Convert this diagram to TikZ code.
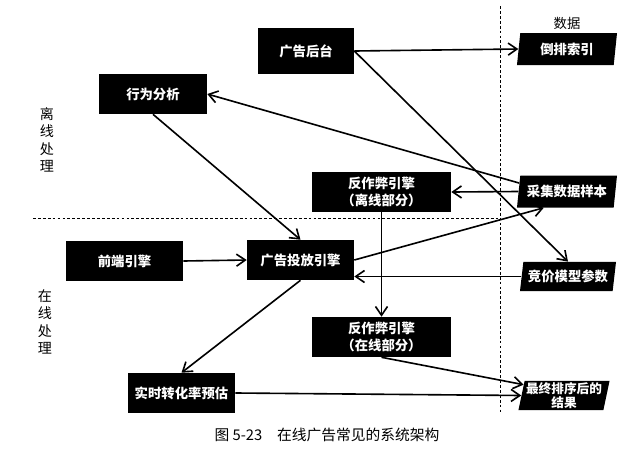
\documentclass[tikz,border=0pt]{standalone}
\usepackage{fontspec}
\setmainfont{Noto Sans CJK SC}
\usepackage{tikz}
\usetikzlibrary{arrows.meta,calc,positioning,shapes.geometric}

\tikzset{
  blocco/.style={fill=black, text=white, inner sep=1pt, align=center,
    minimum width=2.7cm, minimum height=1cm, font=\fontsize{9.5}{12}\selectfont\bfseries},
  dato/.style={trapezium, trapezium left angle=78, trapezium right angle=102,
    trapezium stretches body, fill=black, text=white, inner sep=1pt, align=center,
    minimum width=2.5cm, minimum height=0.8cm, font=\fontsize{9.5}{11}\selectfont\bfseries},
  freccia/.style={line width=1.15pt, -{Straight Barb[length=2.2mm,width=3mm]}},
  divisore/.style={line width=0.7pt, dash pattern=on 2pt off 1.5pt}
}

\begin{document}
\begin{tikzpicture}[x=0.025cm, y=-0.025cm]
\useasboundingbox (0,0) rectangle (640,449);
% Divisori
\draw[divisore] (500,6) -- (500,412);
\draw[divisore] (33,218) -- (500,218);
\node[font=\fontsize{10}{12.5}\selectfont, align=center] (lixian) at (47,140) {离\\线\\处\\理};
\node[font=\fontsize{10}{12.5}\selectfont, align=center] (zaixian) at (45,322) {在\\线\\处\\理};
\node[font=\fontsize{9.5}{11}\selectfont] (shuju) at (567,23) {数据};
% Blocchi
\node[blocco, minimum width=2.4cm, minimum height=1.15cm] (houtai) at (306,51) {广告后台};
\node[blocco] (xingwei) at (153,94) {行为分析};
\node[blocco, minimum width=3.475cm] (fzb1) at (381.5,192) {反作弊引擎\\（离线部分）};
\node[blocco, minimum width=2.925cm] (qianduan) at (124.5,261) {前端引擎};
\node[blocco, minimum width=2.675cm] (toufang) at (300.5,260) {广告投放引擎};
\node[blocco, minimum width=3.475cm] (fzb2) at (381.5,337) {反作弊引擎\\（在线部分）};
\node[blocco, minimum width=2.675cm] (shishi) at (181.5,393) {实时转化率预估};
% Dati
\node[dato] (daopai) at (567,49) {倒排索引};
\node[dato] (caiji) at (567,191.5) {采集数据样本};
\node[dato, minimum width=2.4cm, minimum height=0.73cm] (jingjia) at (568,276.5) {竞价模型参数};
\node[dato, minimum width=2.25cm, minimum height=0.73cm, font=\fontsize{9}{10}\selectfont\bfseries] (zuizhong) at (564,395.5) {最终排序后的\\结果};
% Frecce
\draw[freccia] (houtai.east) -- (daopai.west);
\draw[freccia] (houtai.east) -- (jingjia.north);
\draw[freccia] (caiji.170) -- (xingwei.east);
\draw[freccia] (caiji.west) -- (fzb1.east);
\draw[freccia] (xingwei.south) -- (toufang.north);
\draw[freccia] (qianduan.east) -- (toufang.west);
\draw[freccia] (toufang.east) -- (caiji.215);
\draw[freccia] (jingjia.west) -- (jingjia.west -| toufang.east);
\draw[freccia] (fzb1.south) -- (fzb2.north);
\draw[freccia] (toufang.south) -- (shishi.north);
\draw[freccia] (shishi.east) -- (zuizhong.west);
\draw[freccia] (fzb2.south) -- (zuizhong.165);
% Didascalia
\node[font=\fontsize{10.5}{12}\selectfont] (didascalia) at (327,435) {图 5-23\hspace{1em}在线广告常见的系统架构};
\end{tikzpicture}
\end{document}
